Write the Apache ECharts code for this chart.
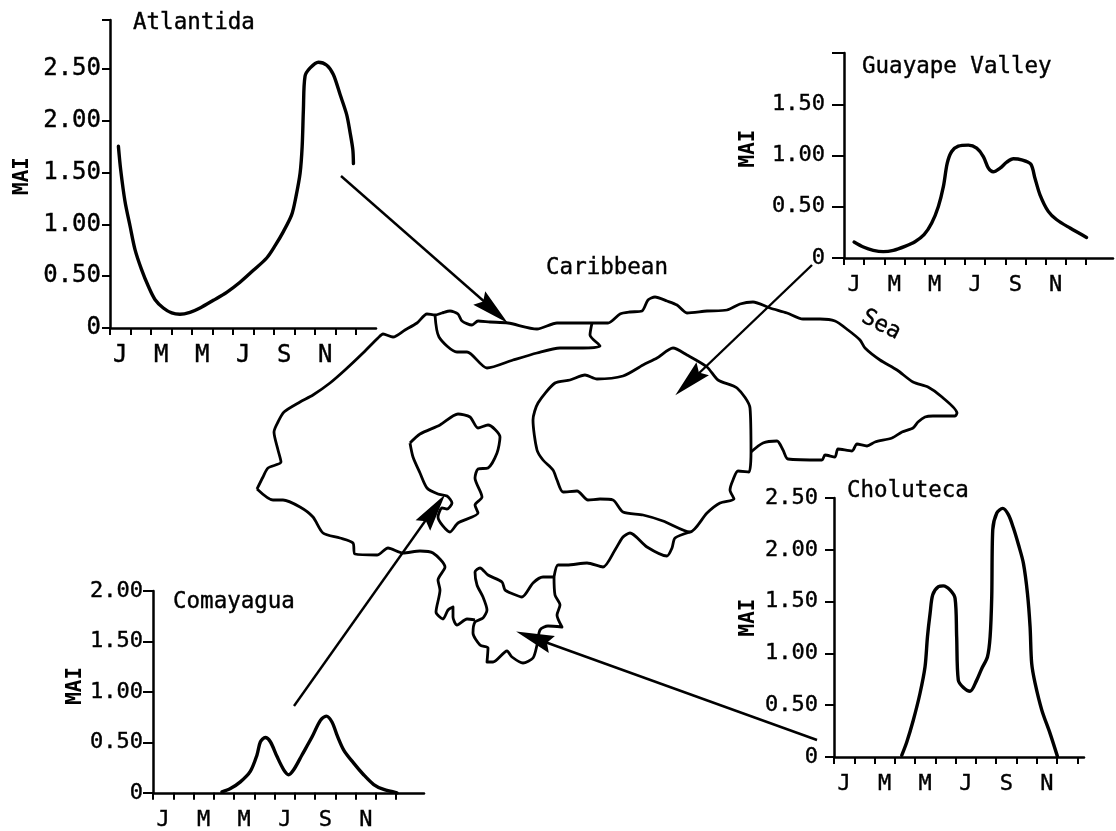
<!DOCTYPE html>
<html><head><meta charset="utf-8">
<style>html,body{margin:0;padding:0;background:#fff}#c{width:1116px;height:831px}</style>
<script src="https://cdn.jsdelivr.net/npm/echarts@6/dist/echarts.min.js"></script>
</head><body><div id="c"></div>
<script>
const monthLetters = ['J','M','M','J','S','N'];
const monthLabelAt = [0.5,2.5,4.5,6.5,8.5,10.5];
const monthTicks = [0,1,2,3,4,5,6,7,8,9,10,11,12];

const atlantida = [[.41,1.752],[.52,1.527],[.73,1.222],[.98,.981],[1.22,.756],[1.54,.563],[1.87,.402],[2.20,.273],[2.60,.193],[3.01,.145],[3.41,.132],[3.90,.151],[4.39,.193],[5.04,.267],[5.69,.344],[6.34,.441],[6.99,.556],[7.64,.675],[8.05,.794],[8.46,.932],[8.86,1.093],[9.07,1.270],[9.27,1.495],[9.37,1.752],[9.43,2.106],[9.51,2.428],[9.76,2.508],[10.16,2.563],[10.57,2.534],[10.89,2.444],[11.22,2.251],[11.54,2.058],[11.71,1.881],[11.84,1.720],[11.87,1.585]];
const guayape = [[.50,.156],[.96,.107],[1.45,.075],[1.95,.062],[2.45,.075],[3.02,.114],[3.52,.159],[3.97,.227],[4.35,.341],[4.68,.503],[4.93,.698],[5.12,.925],[5.34,1.039],[5.67,1.091],[6.17,1.101],[6.58,1.071],[6.91,.990],[7.16,.877],[7.40,.841],[7.74,.877],[8.07,.935],[8.40,.968],[8.81,.958],[9.26,.916],[9.47,.779],[9.72,.617],[10.13,.455],[10.55,.373],[11.21,.292],[12.03,.201]];
const comayagua = [[3.40,.010],[3.82,.042],[4.31,.108],[4.80,.212],[5.13,.375],[5.30,.506],[5.54,.548],[5.79,.506],[6.12,.359],[6.45,.228],[6.69,.179],[6.94,.228],[7.35,.375],[7.85,.555],[8.26,.718],[8.55,.760],[8.83,.702],[9.08,.571],[9.41,.424],[9.90,.294],[10.39,.179],[10.89,.082],[11.38,.033],[12.04,0]];
const choluteca = [[3.34,.016],[3.59,.145],[3.91,.355],[4.24,.613],[4.49,.871],[4.61,1.161],[4.74,1.387],[4.87,1.565],[5.15,1.645],[5.39,1.652],[5.72,1.613],[5.97,1.532],[6.05,1.161],[6.13,.742],[6.38,.671],[6.71,.635],[7.04,.742],[7.29,.855],[7.57,.968],[7.70,1.161],[7.78,1.548],[7.83,2.194],[8.03,2.355],[8.32,2.400],[8.60,2.339],[8.85,2.210],[9.10,2.048],[9.34,1.871],[9.54,1.581],[9.67,1.258],[9.75,.903],[9.92,.710],[10.25,.452],[10.66,.226],[11.02,.006]];

const coastNorth = [[257,489],[263,477],[268,468],[281,462],[278,450],[274,432],[278,422],[284,412],[300,402],[313,395],[330,383],[345,370],[363,353],[378,338],[383,334],[393,337],[405,330],[417,323],[427,314],[435,315],[442,313],[450,311],[458,314],[462,321],[472,325],[478,321],[490,322],[508,323],[537,329],[557,323],[592,323],[608,323],[620,314],[630,312],[642,311],[648,300],[655,297],[667,301],[677,305],[687,313],[707,311],[727,310],[740,304],[753,302],[770,308],[787,313],[803,319],[820,319],[835,321],[848,330],[860,340],[865,348],[880,360],[897,370],[913,382],[928,387],[942,397],[957,413],[955,416],[933,416],[925,417],[918,422],[913,428],[902,432],[892,438],[875,442],[867,446],[857,444],[852,451],[838,449],[835,457],[825,455],[822,460],[788,459],[783,450],[777,441],[763,443],[751,452]];
const borderSouthEast = [[690,532],[675,538],[672,548],[667,556],[647,547],[630,533],[623,537],[615,550],[603,567],[587,563],[567,565],[558,565],[554,577]];
const borderSouthWest = [[475,620],[467,619],[457,625],[453,617],[453,607],[448,610],[443,619],[436,612],[440,590],[438,580],[445,567],[433,553],[420,551],[403,553],[388,548],[377,555],[355,554],[353,543],[340,538],[323,533],[313,517],[300,507],[283,500],[273,500],[257,489]];
const guayapeRegion = [[751,452],[749,472],[738,471],[733,480],[730,490],[734,499],[720,503],[707,513],[690,532],[663,521],[643,515],[623,512],[613,500],[600,499],[588,500],[577,491],[563,492],[557,480],[553,470],[543,460],[537,450],[533,420],[538,403],[555,383],[570,380],[585,375],[597,379],[623,376],[643,365],[657,358],[673,348],[687,355],[707,367],[718,380],[737,388],[750,408],[751,452]];
const atlantidaRegion = [[435,315],[439,337],[457,352],[467,352],[487,368],[513,360],[537,353],[560,348],[583,348],[600,346],[590,335],[592,323]];
const comayaguaRegion = [[410,443],[420,434],[440,425],[458,414],[470,417],[478,428],[488,425],[500,437],[497,453],[488,468],[478,469],[475,478],[482,497],[475,505],[478,513],[458,523],[450,532],[438,517],[442,508],[447,509],[452,503],[447,496],[438,494],[427,488],[420,473],[413,457],[410,443]];
const cholutecaRegion = [[554,577],[543,577],[533,583],[522,597],[513,594],[505,590],[502,582],[488,575],[480,568],[475,572],[477,585],[483,597],[487,610],[483,618],[475,622],[473,633],[480,645],[488,648],[487,662],[493,662],[507,651],[512,657],[523,663],[533,658],[537,645],[540,630],[548,626],[562,627],[557,615],[560,605],[555,595],[554,577]];
const regions = [coastNorth,borderSouthEast,borderSouthWest,guayapeRegion,atlantidaRegion,comayaguaRegion,cholutecaRegion];

const arrowShafts = [[[341,176],[495,311]],[[812,265],[695,377]],[[294,706],[428,517]],[[817,740],[545,642]]];
const arrowHeads = [[493.5,310.5,-131.4],[689,382,133.9],[434,510,-35.8],[534,638,70.2]];
const placeNames = [['Caribbean',607,268,0],['Sea',881,325,-27]];

const panels = [
 {name:'Atlantida', data:atlantida, left:110,top:20,w:266,h:308,xMax:12.97,yMax:2.97,yTicks:[0,.5,1,1.5,2,2.5,2.97],yLabels:[0,.5,1,1.5,2,2.5],tl:133,tt:12,gap:77,padL:0,padR:4,lab:24,labM:9,tick:8},
 {name:'Guayape Valley', data:guayape, left:844,top:53,w:269,h:205,xMax:13.34,yMax:2,yTicks:[0,.5,1,1.5,2],yLabels:[0,.5,1,1.5],tl:862,tt:56,gap:85,padL:14,padR:0,lab:22,labM:19,tick:12},
 {name:'Comayagua', data:comayagua, left:153,top:591,w:271,h:204,xMax:13.37,yMax:2,yTicks:[0,.5,1,1.5,2],yLabels:[0,.5,1,1.5,2],tl:173,tt:591,gap:67,padL:12,padR:0,lab:22,labM:10,tick:10},
 {name:'Choluteca', data:choluteca, left:834,top:498,w:250,h:259,xMax:12.33,yMax:2.5,yTicks:[0,.5,1,1.5,2,2.5],yLabels:[0,.5,1,1.5,2,2.5],tl:847,tt:480,gap:75,padL:20,padR:0,lab:22,labM:16,tick:9}
];
const FONT='"DejaVu Sans Mono"', INK='#000';
const grids=[],xAxes=[],yAxes=[],titles=[],series=[];
panels.forEach((p,i)=>{
  grids.push({left:p.left,top:p.top,width:p.w,height:p.h,containLabel:false});
  titles.push({text:p.name,left:p.tl,top:p.tt,padding:0,textStyle:{fontFamily:FONT,fontSize:22.5,fontWeight:'normal',color:INK,textBorderColor:INK,textBorderWidth:0.4}});
  xAxes.push({type:'value',gridIndex:i,min:0,max:p.xMax,splitLine:{show:false},
    axisLine:{show:true,onZero:false,lineStyle:{color:INK,width:2.5}},
    axisTick:{show:true,length:7,customValues:monthTicks,lineStyle:{color:INK,width:2}},
    axisLabel:{show:true,customValues:monthLabelAt,margin:16,fontFamily:FONT,fontSize:p.lab,color:INK,textBorderColor:INK,textBorderWidth:0.4,hideOverlap:false,
      formatter:v=>monthLetters[monthLabelAt.indexOf(v)]}});
  yAxes.push({type:'value',gridIndex:i,min:0,max:p.yMax,splitLine:{show:false},
    name:'MAI',nameLocation:'middle',nameGap:p.gap,nameRotate:90,nameMoveOverlap:false,
    nameTextStyle:{fontFamily:FONT,fontSize:21,fontWeight:'bold',color:INK,padding:[0,p.padR,0,p.padL]},
    axisLine:{show:true,onZero:false,lineStyle:{color:INK,width:2.5}},
    axisTick:{show:true,length:p.tick,customValues:p.yTicks,lineStyle:{color:INK,width:2}},
    axisLabel:{show:true,customValues:p.yLabels,margin:p.labM,fontFamily:FONT,fontSize:p.lab,color:INK,textBorderColor:INK,textBorderWidth:0.4,hideOverlap:false,
      formatter:v=>v===0?'0':v.toFixed(2)}});
  series.push({type:'line',xAxisIndex:i,yAxisIndex:i,data:p.data,smooth:0.3,showSymbol:false,symbol:'none',clip:false,
    lineStyle:{color:INK,width:3.4,cap:'round',join:'round'}});
});
const M=panels.length;
grids.push({left:0,top:0,width:1116,height:831,containLabel:false});
xAxes.push({type:'value',gridIndex:M,min:0,max:1116,show:false});
yAxes.push({type:'value',gridIndex:M,min:0,max:831,inverse:true,show:false});
regions.forEach(r=>series.push({type:'line',xAxisIndex:M,yAxisIndex:M,data:r,smooth:0.25,showSymbol:false,symbol:'none',
  lineStyle:{color:INK,width:2.8,join:'round'}}));
arrowShafts.forEach(a=>series.push({type:'line',xAxisIndex:M,yAxisIndex:M,data:a,showSymbol:false,symbol:'none',
  lineStyle:{color:INK,width:2.4}}));
arrowHeads.forEach(h=>series.push({type:'scatter',xAxisIndex:M,yAxisIndex:M,data:[[h[0],h[1]]],
  symbol:'path://M5,0 L10,36 L5,31 L0,36 Z',symbolSize:[18,38],symbolRotate:h[2],itemStyle:{color:INK,opacity:1}}));
placeNames.forEach(n=>series.push({type:'scatter',xAxisIndex:M,yAxisIndex:M,data:[[n[1],n[2]]],symbolSize:0,itemStyle:{opacity:1},
  label:{show:true,position:'inside',formatter:n[0],rotate:n[3],fontFamily:FONT,fontSize:22.5,color:INK,opacity:1,textBorderColor:INK,textBorderWidth:0.4}}));
const chart=echarts.init(document.getElementById('c'),null,{renderer:'canvas'});
chart.setOption({animation:false,backgroundColor:'#fff',title:titles,grid:grids,xAxis:xAxes,yAxis:yAxes,series:series});
</script></body></html>
